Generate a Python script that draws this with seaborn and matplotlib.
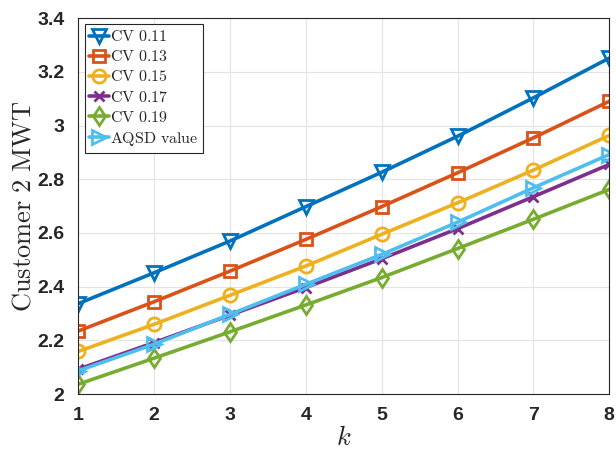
import numpy as np
import pandas as pd
import matplotlib
matplotlib.use("Agg")
import matplotlib.pyplot as plt
from matplotlib.ticker import FormatStrFormatter
import seaborn as sns

# Dados
k = [1, 2, 3, 4, 5, 6, 7, 8]
cv_011 = [2.337, 2.452, 2.570, 2.698, 2.826, 2.960, 3.103, 3.251]
cv_013 = [2.235, 2.344, 2.458, 2.576, 2.698, 2.824, 2.954, 3.090]
cv_015 = [2.159, 2.260, 2.368, 2.477, 2.595, 2.712, 2.834, 2.963]
cv_017 = [2.093, 2.192, 2.294, 2.397, 2.504, 2.616, 2.735, 2.855]
cv_019 = [2.037, 2.134, 2.232, 2.332, 2.434, 2.542, 2.651, 2.762]
aqsd = [2.087, 2.186, 2.297, 2.409, 2.520, 2.640, 2.768, 2.892]

series_names = ["CV 0.11", "CV 0.13", "CV 0.15", "CV 0.17", "CV 0.19", "AQSD value"]
series_vals = [cv_011, cv_013, cv_015, cv_017, cv_019, aqsd]
colors = ["#0072BD", "#D95319", "#EDB120", "#7E2F8E", "#77AC30", "#4DBEEE"]
markers = ["v", "s", "o", "x", "d", ">"]
msizes = [9.5, 8, 9.5, 7, 9.5, 9.5]

sns.set_style("white")
plt.rcParams["mathtext.fontset"] = "cm"
plt.rcParams["font.family"] = ["Liberation Sans", "DejaVu Sans"]

fig = plt.figure(figsize=(6.16, 4.51), dpi=100)
ax = fig.add_axes([0.127, 0.126, 0.862, 0.834])

for nome, vals, cor, mk, ms in zip(series_names, series_vals, colors, markers, msizes):
    df = pd.DataFrame({"k": k, "v": vals})
    sns.lineplot(data=df, x="k", y="v", ax=ax, color=cor, marker=mk, markersize=ms,
                 markerfacecolor="none", markeredgecolor=cor, markeredgewidth=2,
                 linewidth=2.6, label=r"$\mathrm{" + nome.replace(" ", r"\ ") + "}$")

ax.set_xlim(1, 8)
ax.set_ylim(2, 3.4)
ax.set_xticks(k)
ax.set_yticks(np.arange(2, 3.41, 0.2))
ax.yaxis.set_major_formatter(FormatStrFormatter("%g"))
ax.grid(True, color="#e3e3e3", linewidth=0.8)
ax.tick_params(direction="in", length=5, width=0.8, colors="#262626", labelsize=14)
ax.tick_params(axis="x", pad=9)
ax.tick_params(axis="y", pad=10)
for lbl in ax.get_xticklabels() + ax.get_yticklabels():
    lbl.set_fontweight("bold")
for s in ax.spines.values():
    s.set_color("#262626")
    s.set_linewidth(0.8)

ax.set_xlabel(r"$k$", fontsize=19, labelpad=2)
ax.set_ylabel(r"$\mathrm{Customer\ 2\ MWT}$", fontsize=19, labelpad=1)

leg = ax.legend(loc="upper left", fontsize=11.5, handlelength=1.2, handletextpad=0.1,
                borderpad=0.3, labelspacing=0.32, fancybox=False, framealpha=1,
                borderaxespad=0.4)
leg.get_frame().set_edgecolor("#262626")
leg.get_frame().set_linewidth(0.8)

plt.savefig("out.png", dpi=100)
